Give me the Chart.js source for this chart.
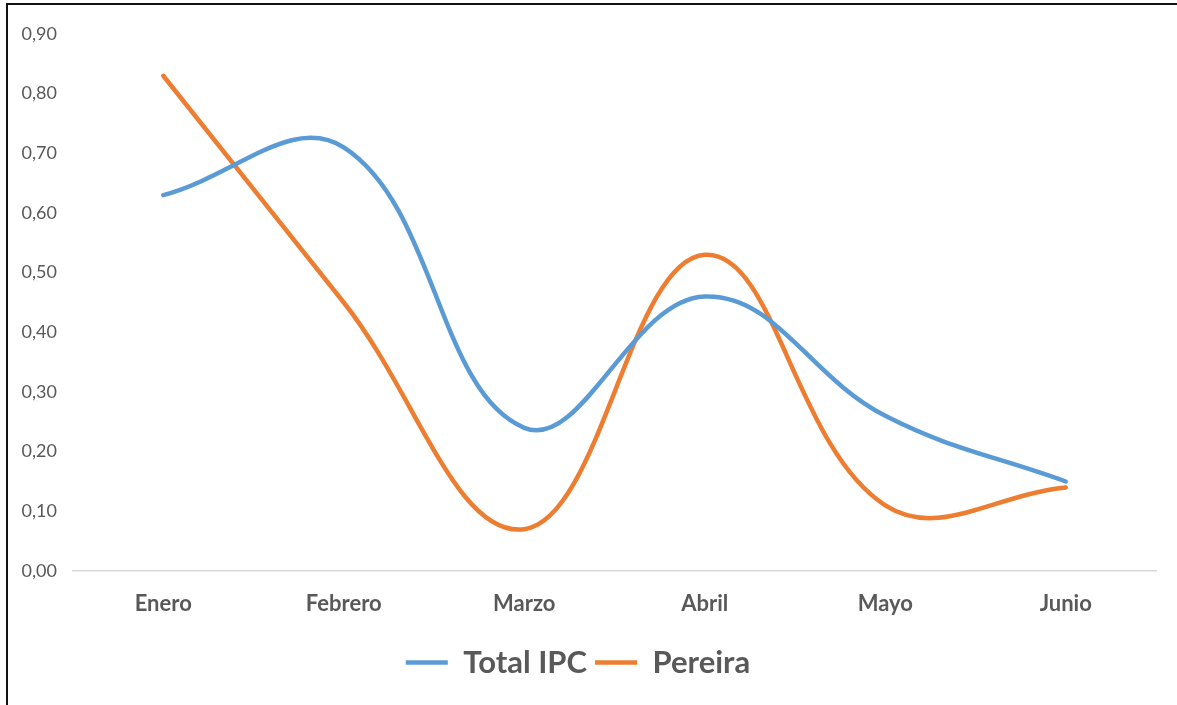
<!DOCTYPE html>
<html>
<head>
<meta charset="utf-8">
<script src="https://cdn.jsdelivr.net/npm/chart.js@4.4.0/dist/chart.umd.min.js"></script>
<style>
  html, body { margin: 0; padding: 0; background: #fff; }
  #wrap { position: relative; width: 1177px; height: 705px; overflow: hidden; }
  #c { position: absolute; left: 0; top: 0; }
  #frame { position: absolute; left: 6px; top: 3px; width: 1171px; height: 702px;
           border-top: 2px solid #111; border-left: 2px solid #111; box-sizing: border-box; pointer-events: none; }
</style>
</head>
<body>
<div id="wrap">
  <canvas id="c" width="1177" height="705"></canvas>
  <div id="frame"></div>
</div>
<script>
const categories = ['Enero', 'Febrero', 'Marzo', 'Abril', 'Mayo', 'Junio'];
const totalIPC = [0.63, 0.71, 0.24, 0.46, 0.26, 0.15];
const pereira = [0.83, 0.45, 0.07, 0.53, 0.11, 0.14];
const seriesNames = ['Total IPC', 'Pereira'];
const yMin = 0, yMax = 0.9, yStep = 0.1;

const FONT = 'Lato, "Open Sans", sans-serif';
const TXT = '#595959';

new Chart(document.getElementById('c'), {
  type: 'line',
  data: {
    labels: categories,
    datasets: [
      { label: seriesNames[0], data: totalIPC, borderColor: '#5B9BD5', backgroundColor: '#5B9BD5',
        borderWidth: 4.5, pointRadius: 0, tension: 0.4, borderCapStyle: 'round', pointStyle: 'line' },
      { label: seriesNames[1], data: pereira, borderColor: '#ED7D31', backgroundColor: '#ED7D31',
        borderWidth: 4.5, pointRadius: 0, tension: 0.4, borderCapStyle: 'round', pointStyle: 'line' }
    ]
  },
  options: {
    responsive: false,
    animation: false,
    layout: { padding: { left: 0, right: 21, top: 34, bottom: 17 } },
    plugins: {
      tooltip: { enabled: false },
      legend: {
        position: 'bottom',
        labels: {
          usePointStyle: true,
          pointStyleWidth: 42,
          boxHeight: 4,
          color: TXT,
          padding: 8,
          font: { family: FONT, size: 31, weight: 'bold' }
        }
      }
    },
    scales: {
      x: {
        offset: true,
        grid: { display: false, drawTicks: false },
        border: { display: true, color: '#D9D9D9', width: 1.5 },
        ticks: { color: TXT, padding: 20, font: { family: FONT, size: 22, weight: 'bold' } },
        afterFit: s => { s.height = 68; }
      },
      y: {
        min: yMin, max: yMax,
        grid: { display: false, drawTicks: false },
        border: { display: false },
        ticks: {
          stepSize: yStep, color: TXT, padding: 16,
          font: { family: FONT, size: 18 },
          callback: v => Number(v).toFixed(2).replace('.', ',')
        },
        afterFit: s => { s.width = 73; }
      }
    }
  }
});
</script>
</body>
</html>
